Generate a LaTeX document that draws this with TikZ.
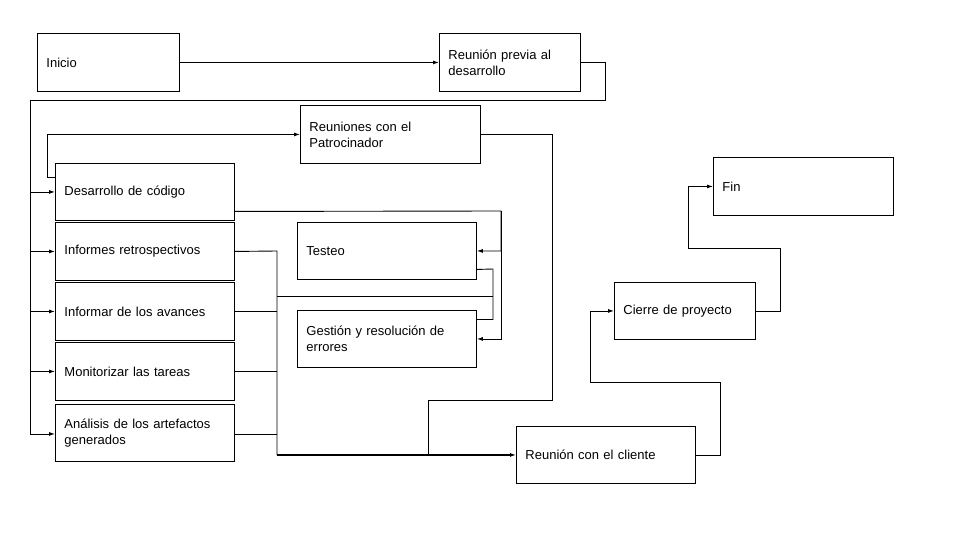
\documentclass[tikz,border=0pt]{standalone}
\usepackage{fontspec}
\setmainfont{Liberation Sans}
\usetikzlibrary{arrows.meta}
\begin{document}
\begin{tikzpicture}[x=1pt,y=1pt,
  box/.style={draw,line width=0.9pt,anchor=north west,align=left,
    inner xsep=9pt,inner ysep=0pt,font=\fontsize{13}{16}\selectfont},
  wire/.style={line width=0.9pt},
  arr/.style={wire,-{Latex[length=6pt,width=4pt]}}]
\useasboundingbox (0,0) rectangle (960,-540);

% boxes: position = top-left corner, size in px
\newcommand{\stage}[6]{%
  \node[box,minimum width=#4,minimum height=#5,text width=#4-18] (#1) at (#2,-#3) {#6};}
\stage{inicio}{37}{33}{142}{58}{Inicio}
\stage{previa}{439}{33}{141}{58}{Reunión previa al\\desarrollo}
\stage{patro}{300}{105}{180}{58}{Reuniones con el\\Patrocinador}
\stage{dev}{55}{163}{179}{57}{Desarrollo de código}
\stage{retro}{55}{222}{179}{58}{Informes retrospectivos}
\stage{avan}{55}{282}{179}{58}{Informar de los avances}
\stage{moni}{55}{342}{179}{58}{Monitorizar las tareas}
\stage{anal}{55}{404}{179}{57}{Análisis de los artefactos\\generados}
\stage{test}{297}{222}{179}{57}{Testeo}
\stage{gest}{297}{310}{179}{57}{Gestión y resolución de\\errores}
\stage{cli}{516}{426}{179}{57}{Reunión con el cliente}
\stage{cierre}{614}{282}{141}{57}{Cierre de proyecto}
\stage{fin}{713}{157}{180}{58}{Fin}

% junction points of the connector network
\coordinate (bus) at (30,-100);
\coordinate (devR) at (501,-211);
\coordinate (loopR) at (493,-269);
\coordinate (mergeX) at (277,-251);
\coordinate (mergeB) at (277,-455);
\coordinate (crossL) at (277,-296);
\coordinate (crossR) at (493,-296);
\coordinate (patroD) at (552,-400);
\coordinate (patroJ) at (428,-455);
\coordinate (cliR) at (720,-382);
\coordinate (cierreR) at (780,-248);

% start sequence
\draw[arr] (inicio) -- (previa);
\draw[arr] (previa.east) -- ++(25,0) |- (bus) |- (dev.west);
\draw[arr] (bus) |- (retro.west);
\draw[arr] (bus) |- (avan.west);
\draw[arr] (bus) |- (moni.west);
\draw[arr] (bus) |- ([yshift=-1]anal.west);

% development to sponsor meetings
\draw[arr] ([yshift=14.5]dev.west) -- ++(-8,0) |- (patro.west);

% development to testing and error handling
\draw[arr] ([yshift=-19.5]dev.east) -- (devR) |- (test.east);
\draw[arr] (devR) |- (gest.east);
\draw[wire] ([yshift=-18.5]test.east) -- (loopR) |- ([yshift=19.5]gest.east);
\draw[wire] (crossL) -- (crossR);

% reporting tasks merge into the client meeting
\draw[wire] (retro.east) -- (mergeX) -- (mergeB);
\draw[wire] (avan.east) -- (avan.east -| mergeX);
\draw[wire] (moni.east) -- (moni.east -| mergeX);
\draw[wire] ([yshift=-1]anal.east) -- ([yshift=-1]anal.east -| mergeX);
\draw[arr,line width=1.8pt] (mergeB) -- (cli.west);
\draw[wire] (patro.east) -| (patroD) -| (patroJ);

% closing sequence
\draw[arr] (cli.east) -| (cliR) -| ++(-130,0) |- (cierre.west);
\draw[arr] (cierre.east) -| (cierreR) -| ++(-92,0) |- (fin.west);
\end{tikzpicture}
\end{document}
